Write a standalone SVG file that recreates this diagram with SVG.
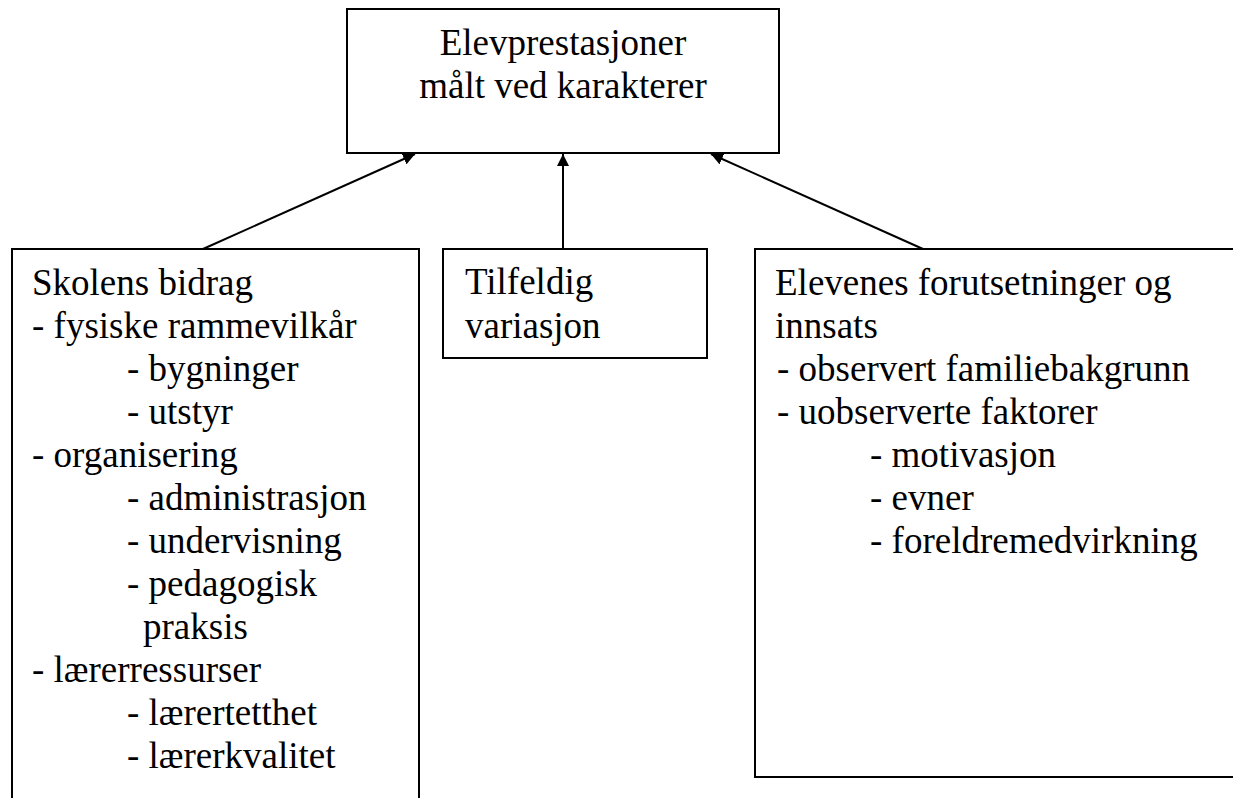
<svg xmlns="http://www.w3.org/2000/svg" width="1233" height="798" viewBox="0 0 1233 798">
<style>
.box{fill:#fff;stroke:#000;stroke-width:2}
.t{font-family:'Liberation Serif','Times New Roman',serif;font-size:37px;fill:#000}
.c{stroke:#000;stroke-width:2;fill:none}
</style>
<defs>
<marker id="ah" viewBox="0 0 12 12" refX="12" refY="6" markerWidth="12" markerHeight="12" markerUnits="userSpaceOnUse" orient="auto">
<path d="M0,0 L12,6 L0,12 Z" fill="#000"/>
</marker>
</defs>
<rect width="1233" height="798" fill="#fff"/>
<g id="connectors">
<line class="c" x1="203" y1="249" x2="415" y2="154" marker-end="url(#ah)"/>
<line class="c" x1="563" y1="249" x2="563" y2="154" marker-end="url(#ah)"/>
<line class="c" x1="923" y1="249" x2="711" y2="154" marker-end="url(#ah)"/>
</g>
<g id="top">
<rect class="box" x="347" y="9" width="432" height="144"/>
<text class="t" x="563" y="55" text-anchor="middle">Elevprestasjoner</text>
<text class="t" x="563" y="98" text-anchor="middle">målt ved karakterer</text>
</g>
<g id="school">
<rect class="box" x="12" y="249" width="407" height="570"/>
<text class="t" x="32" y="295">Skolens bidrag</text>
<text class="t" x="32" y="338">- fysiske rammevilkår</text>
<text class="t" x="127" y="381">- bygninger</text>
<text class="t" x="127" y="424">- utstyr</text>
<text class="t" x="32" y="467">- organisering</text>
<text class="t" x="127" y="510">- administrasjon</text>
<text class="t" x="127" y="553">- undervisning</text>
<text class="t" x="127" y="596">- pedagogisk</text>
<text class="t" x="143" y="639">praksis</text>
<text class="t" x="32" y="682">- lærerressurser</text>
<text class="t" x="127" y="725">- lærertetthet</text>
<text class="t" x="127" y="768">- lærerkvalitet</text>
</g>
<g id="random">
<rect class="box" x="443" y="249" width="264" height="109"/>
<text class="t" x="465" y="294">Tilfeldig</text>
<text class="t" x="465" y="338">variasjon</text>
</g>
<g id="students">
<rect class="box" x="755" y="249" width="490" height="528"/>
<text class="t" x="775" y="295">Elevenes forutsetninger og</text>
<text class="t" x="775" y="338">innsats</text>
<text class="t" x="777" y="381">- observert familiebakgrunn</text>
<text class="t" x="777" y="424">- uobserverte faktorer</text>
<text class="t" x="870" y="467">- motivasjon</text>
<text class="t" x="870" y="510">- evner</text>
<text class="t" x="870" y="553">- foreldremedvirkning</text>
</g>
</svg>
